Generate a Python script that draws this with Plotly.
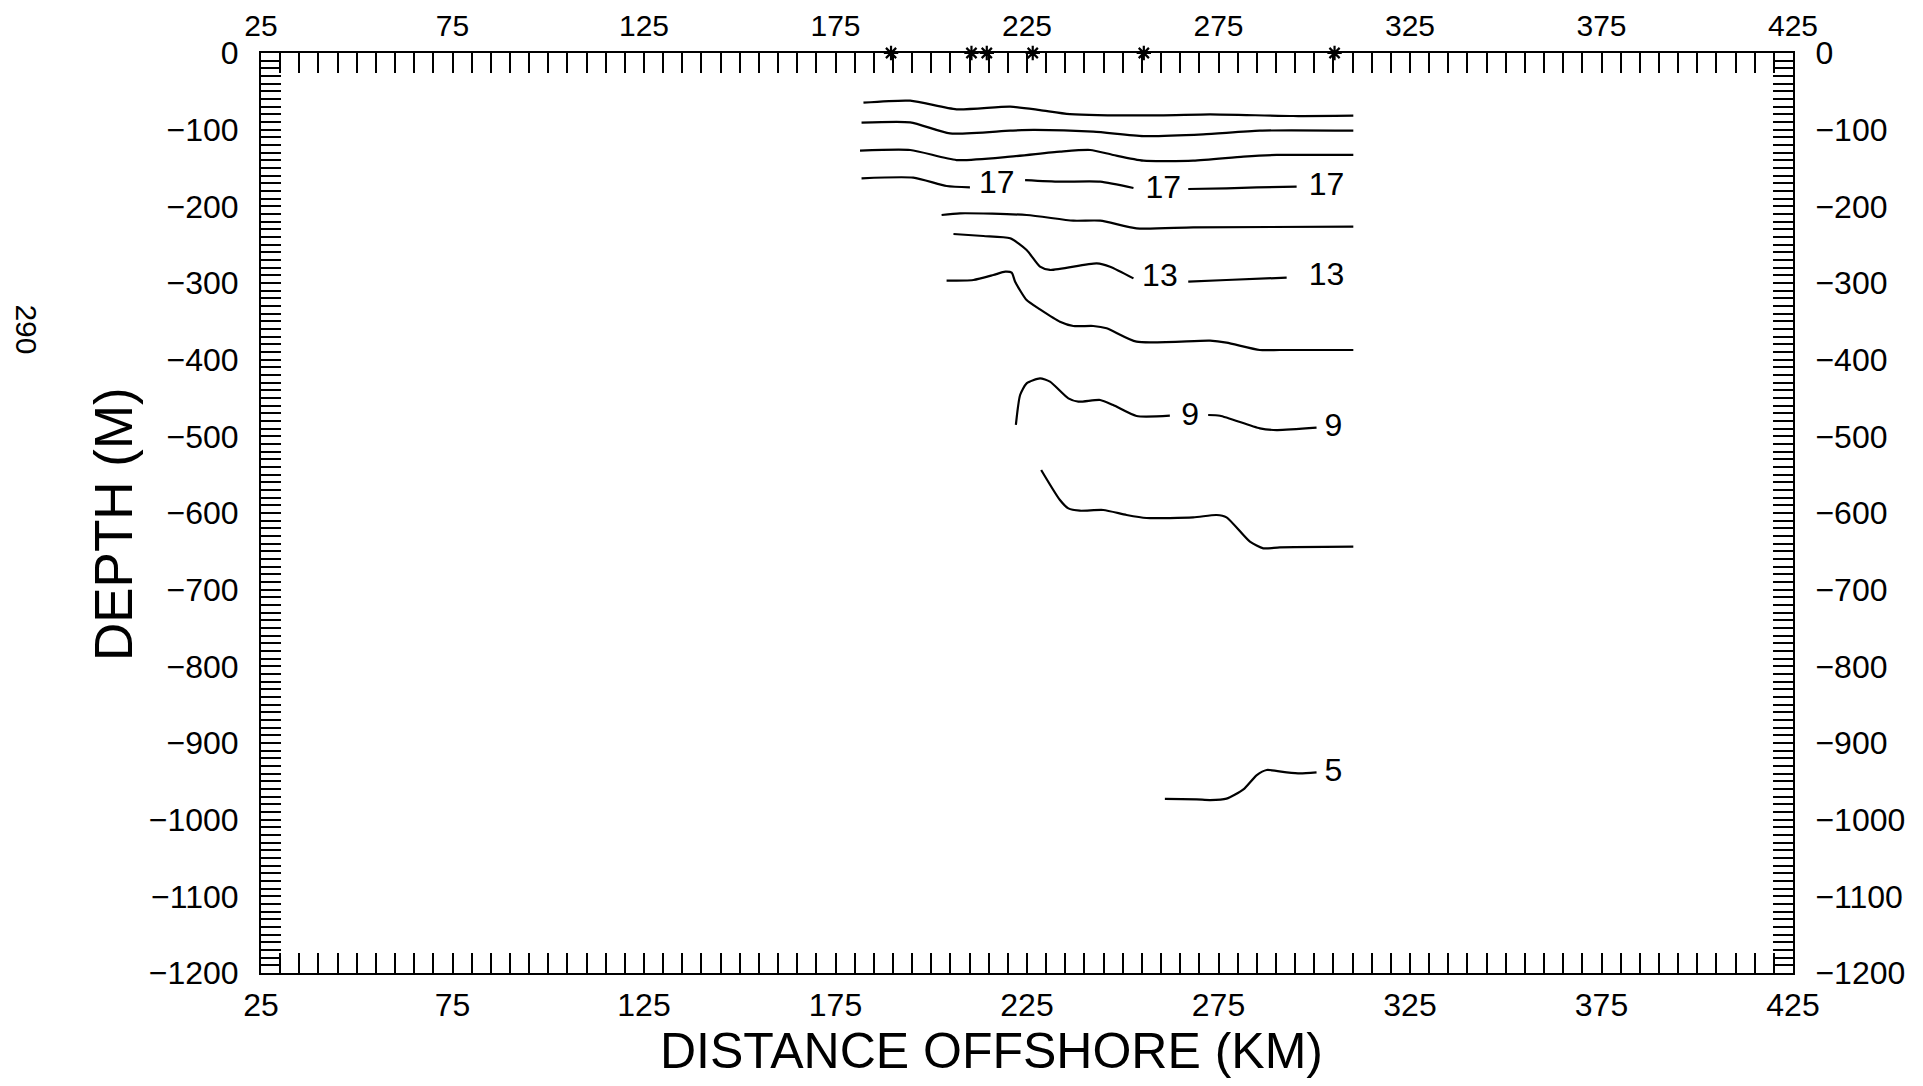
import plotly.graph_objects as go

# tick labels
x_ticks = [25, 75, 125, 175, 225, 275, 325, 375, 425]
y_ticks = [0, -100, -200, -300, -400, -500, -600, -700, -800, -900, -1000, -1100, -1200]

# station positions (km) marked on top axis
stations = [189.5, 210.5, 214.5, 226.5, 255.5, 305.3]

# contour lines: distance (km) / depth (m); None splits a line where a label sits
c23_x = [182.3, 194.5, 206.6, 220.6, 228.4, 236.2, 259.7, 272.8, 294.5, 310.2]
c23_d = [-64.8, -62.2, -73.5, -70.0, -74.4, -79.6, -81.3, -80.0, -82.2, -81.7]

c21_x = [181.8, 194.5, 204.9, 220.6, 226.7, 242.3, 255.4, 271.0, 285.8, 310.2]
c21_d = [-90.9, -90.4, -104.8, -101.3, -100.4, -102.6, -108.3, -106.1, -101.3, -101.3]

c19_x = [181.4, 194.5, 206.6, 220.6, 233.6, 241.5, 247.5, 255.4, 268.4, 281.5, 290.2, 310.2]
c19_d = [-127.4, -126.5, -139.6, -135.2, -128.7, -126.5, -133.0, -140.4, -140.4, -135.2, -133.0, -133.0]

c17_x = [181.8, 195.3, 204.0, 210.1, None, 224.5, 233.6, 244.1, 252.8, None,
         267.1, 277.1, 285.0, 295.4]
c17_d = [-163.5, -162.6, -173.5, -175.2, None, -165.7, -167.8, -167.8, -176.1, None,
         -177.4, -176.5, -175.2, -174.4]

c15_x = [202.7, 207.5, 224.9, 237.1, 244.1, 253.6, 268.4, 310.2]
c15_d = [-211.3, -209.1, -211.3, -218.7, -218.7, -228.7, -227.4, -226.5]

c13_x = [205.8, 213.6, 220.6, 224.9, 228.4, 231.0, 243.2, 246.7, 252.8, None,
         267.1, 277.1, 292.8]
c13_d = [-236.1, -238.7, -241.7, -257.0, -278.7, -283.0, -274.4, -278.7, -294.0, None,
         -298.3, -296.1, -293.0]

c11_x = [204.0, 211.0, 216.2, 219.3, 221.0, 221.9, 224.9, 228.4, 233.6, 237.1, 242.3,
         245.8, 253.6, 272.8, 277.1, 285.8, 291.0, 310.2]
c11_d = [-297.0, -296.1, -289.6, -285.2, -286.5, -298.3, -322.2, -334.4, -350.5, -356.1,
         -356.1, -359.1, -376.5, -375.2, -377.8, -387.4, -387.4, -387.4]

c9_x = [222.1, 223.2, 224.9, 228.4, 231.0, 235.8, 238.4, 244.1, 247.5, 253.6, 262.3, None,
        272.3, 275.4, 285.8, 290.2, 300.6]
c9_d = [-485.2, -446.1, -430.9, -424.4, -428.7, -450.5, -454.8, -452.6, -459.2, -473.5,
        -473.1, None, -472.2, -473.1, -489.6, -491.8, -488.7]

c7_x = [228.7, 233.6, 235.8, 238.8, 244.9, 251.0, 256.2, 268.4, 274.5, 277.1, 283.2,
        286.7, 291.0, 310.2]
c7_d = [-543.9, -583.1, -594.0, -597.0, -596.1, -602.6, -606.5, -605.7, -602.6, -605.7,
        -637.4, -646.1, -644.8, -643.9]

c5_x = [261.0, 269.3, 272.8, 277.1, 281.5, 285.0, 287.6, 292.8, 296.3, 300.6]
c5_d = [-973.0, -973.5, -974.4, -972.6, -960.5, -941.8, -935.2, -938.3, -939.6, -938.3]

# contour labels
lab_text = ["17", "17", "17", "13", "13", "9", "9", "5"]
lab_x = [217.1, 260.6, 303.2, 259.7, 303.2, 267.6, 305.0, 305.0]
lab_d = [-172.2, -178.7, -174.4, -293.0, -292.6, -474.4, -489.6, -939.6]

FONT = "Liberation Sans, Arial, sans-serif"

fig = go.Figure()

for xs, ds in [(c23_x, c23_d), (c21_x, c21_d), (c19_x, c19_d), (c17_x, c17_d),
               (c15_x, c15_d), (c13_x, c13_d), (c11_x, c11_d), (c9_x, c9_d),
               (c7_x, c7_d), (c5_x, c5_d)]:
    fig.add_trace(go.Scatter(x=xs, y=ds, mode="lines", connectgaps=False,
                             line=dict(color="black", width=2.2, shape="spline", smoothing=0.6),
                             hoverinfo="skip"))

fig.add_trace(go.Scatter(x=lab_x, y=lab_d, mode="text", text=lab_text,
                         textfont=dict(family=FONT, size=32, color="black"),
                         hoverinfo="skip"))

fig.add_trace(go.Scatter(x=stations, y=[0] * len(stations), mode="markers",
                         marker=dict(symbol="asterisk-open", size=12, color="black",
                                     line=dict(color="black", width=2.2)),
                         cliponaxis=False, hoverinfo="skip"))

# invisible trace so the mirrored axes render
fig.add_trace(go.Scatter(x=[25], y=[0], xaxis="x2", yaxis="y2", mode="markers",
                         marker=dict(opacity=0), hoverinfo="skip"))

tickfont = dict(family=FONT, size=32, color="black")
xcommon = dict(range=[25, 425], tickmode="array", tickvals=x_ticks, ticks="inside",
               ticklen=20, tickwidth=2, tickcolor="black", showline=True, linewidth=2,
               linecolor="black", showgrid=False, zeroline=False,
               automargin=False,
               minor=dict(tickmode="linear", tick0=25, dtick=5, ticks="inside", ticklen=20,
                          tickwidth=2, tickcolor="black", showgrid=False))
ycommon = dict(range=[-1200, 0], tickmode="array", tickvals=y_ticks, ticks="inside",
               ticklen=20, tickwidth=2, tickcolor="black", showline=True, linewidth=2,
               linecolor="black", showgrid=False, zeroline=False, tickfont=tickfont,
               automargin=False,
               minor=dict(tickmode="linear", tick0=0, dtick=10, ticks="inside", ticklen=20,
                          tickwidth=1.6, tickcolor="black", showgrid=False))

# page body has an 8px margin, so the figure is shrunk and margins shifted by 8px
fig.update_layout(
    width=1907, height=1070,
    margin=dict(l=253, r=122, t=45, b=105, autoexpand=False),
    plot_bgcolor="white", paper_bgcolor="white",
    showlegend=False,
    xaxis=dict(side="bottom", ticklabelstandoff=3, tickfont=tickfont, **xcommon),
    xaxis2=dict(side="top", overlaying="x", ticklabelstandoff=3,
                tickfont=dict(family=FONT, size=30, color="black"), **xcommon),
    yaxis=dict(side="left", ticklabelstandoff=14, **ycommon),
    yaxis2=dict(side="right", overlaying="y", ticklabelstandoff=14, **ycommon),
    annotations=[
        dict(text="DISTANCE OFFSHORE (KM)", xref="paper", yref="paper", x=0.477, y=-0.0848,
             xanchor="center", yanchor="middle", showarrow=False,
             font=dict(family=FONT, size=50, color="black")),
        dict(text="DEPTH (M)", xref="paper", yref="paper", x=-0.0966, y=0.488,
             xanchor="center", yanchor="middle", textangle=-90, showarrow=False,
             font=dict(family=FONT, size=53, color="black")),
        dict(text="290", xref="paper", yref="paper", x=-0.153, y=0.700,
             xanchor="center", yanchor="middle", textangle=90, showarrow=False,
             font=dict(family=FONT, size=30, color="black")),
    ],
)

fig.write_html("out.html")
